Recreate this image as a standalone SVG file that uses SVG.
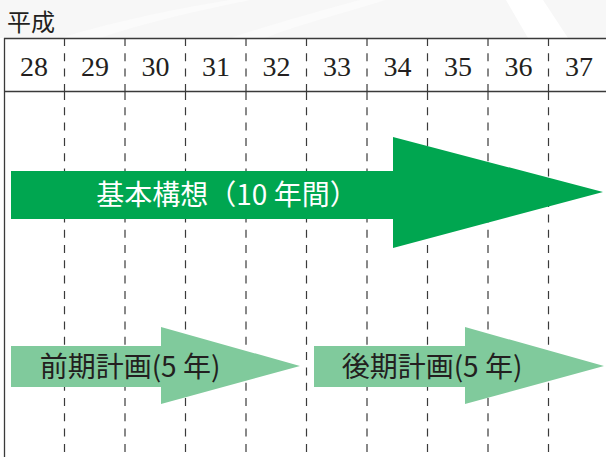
<svg xmlns="http://www.w3.org/2000/svg" width="606" height="457" viewBox="0 0 606 457">
<style>
.grid{stroke:#3a3a3a;stroke-width:1.3;fill:none}
.dash{stroke:#3a3a3a;stroke-width:1.2;stroke-dasharray:8 7.3;fill:none}
.yr{font-family:"Liberation Serif",serif;font-size:28px;fill:#231f20;text-anchor:middle}
.cjk{font-family:"Noto Sans CJK JP","Noto Sans",sans-serif}
</style>
<rect x="0" y="0" width="606" height="457" fill="#ffffff"/>
<g id="background">
<rect x="0" y="0" width="606" height="38" fill="#f7f7f7"/>
<path d="M506 0 L528 38 L568 38 L543 0 Z" fill="#ffffff"/>
<path d="M60 38 C120 20 180 8 230 0 L250 0 C200 10 140 24 100 38 Z" fill="#fbfbfb"/>
<path d="M230 38 C280 22 330 8 360 0 L385 0 C355 10 300 24 265 38 Z" fill="#fbfbfb"/>
</g>
<g id="table">
<line class="grid" x1="4" y1="38.5" x2="606" y2="38.5"/>
<line class="grid" x1="4" y1="91.5" x2="606" y2="91.5"/>
<line class="grid" x1="4.5" y1="38" x2="4.5" y2="457"/>
<g id="header-dashes">
<path class="dash" d="M64.5 38V92M125 38V92M185.5 38V92M246 38V92M306.5 38V92M367 38V92M427.5 38V92M488 38V92M548.5 38V92"/>
</g>
<g id="body-dashes">
<path class="dash" d="M64.5 92V457M125 92V457M185.5 92V457M246 92V457M306.5 92V457M367 92V457M427.5 92V457M488 92V457M548.5 92V457"/>
</g>
</g>
<g id="era-label"><text class="cjk" x="7" y="31" font-size="24" fill="#231f20">平成</text></g>
<g id="years">
<text class="yr" x="34" y="76">28</text>
<text class="yr" x="95" y="76">29</text>
<text class="yr" x="155.5" y="76">30</text>
<text class="yr" x="216" y="76">31</text>
<text class="yr" x="276.5" y="76">32</text>
<text class="yr" x="337" y="76">33</text>
<text class="yr" x="397.5" y="76">34</text>
<text class="yr" x="458" y="76">35</text>
<text class="yr" x="518.5" y="76">36</text>
<text class="yr" x="579" y="76">37</text>
</g>
<g id="basic-plan">
<polygon points="11,171 393,171 393,137 603,192 393,248 393,219 11,219" fill="#00a650"/>
<text class="cjk" x="227" y="205" font-size="28" fill="#ffffff" text-anchor="middle">基本構想（10 年間）</text>
</g>
<g id="first-plan">
<polygon points="11,346 161,346 161,327 300,366 161,404 161,387 11,387" fill="#80ca9c"/>
<text class="cjk" x="130" y="377" font-size="28" fill="#231f20" text-anchor="middle">前期計画(5 年)</text>
</g>
<g id="second-plan">
<polygon points="314,346 465,346 465,327 604,366 465,404 465,387 314,387" fill="#80ca9c"/>
<text class="cjk" x="432" y="377" font-size="28" fill="#231f20" text-anchor="middle">後期計画(5 年)</text>
</g>
</svg>
